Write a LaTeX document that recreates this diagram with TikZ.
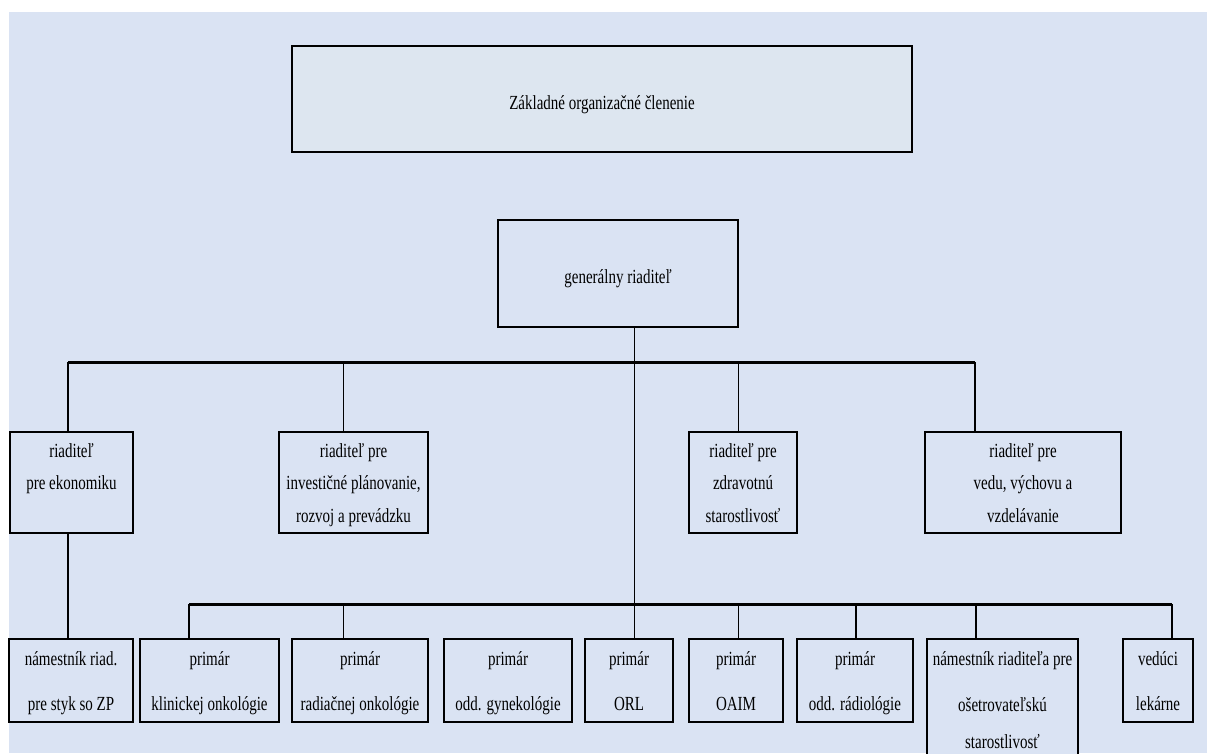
\documentclass[tikz,border=0pt]{standalone}
\usepackage{fontspec}
\setmainfont{Liberation Serif}[FakeStretch=0.75]
\definecolor{bg}{HTML}{DAE3F3}
\definecolor{topfill}{HTML}{DDE6F0}
\begin{document}
\begin{tikzpicture}[x=1pt,y=-1pt,
 box/.style={draw=black, line width=2pt, fill=bg, rectangle, inner sep=0pt, outer sep=0pt, anchor=north west},
 lbl/.style={anchor=base, inner sep=0pt, font=\fontsize{20}{24}\selectfont},
 bus/.style={line width=3pt},
 thk/.style={line width=2pt},
 thn/.style={line width=1pt}]
\useasboundingbox (0,0) rectangle (1207,753);
\clip (0,0) rectangle (1207,753);
\fill[white] (0,0) rectangle (1207,753);
\fill[bg] (9,12) rectangle (1207,753);

% boxes
\node[box, fill=topfill, minimum width=620pt, minimum height=106pt] (top) at (292,46) {};
\node[box, minimum width=240pt, minimum height=107pt] (gen) at (498,220) {};
\node[box, minimum width=123pt, minimum height=101pt] (eko) at (10,432) {};
\node[box, minimum width=149pt, minimum height=101pt] (inv) at (279,432) {};
\node[box, minimum width=108pt, minimum height=101pt] (zdr) at (689,432) {};
\node[box, minimum width=196pt, minimum height=101pt] (ved) at (925,432) {};
\node[box, minimum width=124pt, minimum height=83pt] (nam) at (9,639) {};
\node[box, minimum width=139pt, minimum height=83pt] (kli) at (140,639) {};
\node[box, minimum width=136pt, minimum height=83pt] (rad) at (292,639) {};
\node[box, minimum width=128pt, minimum height=83pt] (gyn) at (444,639) {};
\node[box, minimum width=88pt, minimum height=83pt] (orl) at (585,639) {};
\node[box, minimum width=94pt, minimum height=83pt] (oaim) at (689,639) {};
\node[box, minimum width=116pt, minimum height=83pt] (rdl) at (797,639) {};
\node[box, minimum width=151pt, minimum height=130pt] (nrs) at (927,639) {};
\node[box, minimum width=70pt, minimum height=83pt] (lek) at (1123,639) {};

% labels
\node[lbl] (topT) at (top.center |- 0,109) {Základné organizačné členenie};
\node[lbl] (genT) at (gen.center |- 0,283) {generálny riaditeľ};
\node[lbl] (ekoA) at (eko.center |- 0,457) {riaditeľ};
\node[lbl] (ekoB) at (eko.center |- 0,489) {pre ekonomiku};
\node[lbl] (invA) at (inv.center |- 0,457) {riaditeľ pre};
\node[lbl] (invB) at (inv.center |- 0,489) {investičné plánovanie,};
\node[lbl] (invC) at (inv.center |- 0,522) {rozvoj a prevádzku};
\node[lbl] (zdrA) at (zdr.center |- 0,457) {riaditeľ pre};
\node[lbl] (zdrB) at (zdr.center |- 0,489) {zdravotnú};
\node[lbl] (zdrC) at (zdr.center |- 0,522) {starostlivosť};
\node[lbl] (vedA) at (ved.center |- 0,457) {riaditeľ pre};
\node[lbl] (vedB) at (ved.center |- 0,489) {vedu, výchovu a};
\node[lbl] (vedC) at (ved.center |- 0,522) {vzdelávanie};
\node[lbl] (namA) at (nam.center |- 0,665) {námestník riad.};
\node[lbl] (namB) at (nam.center |- 0,710) {pre styk so ZP};
\node[lbl] (kliA) at (kli.center |- 0,665) {primár};
\node[lbl] (kliB) at (kli.center |- 0,710) {klinickej onkológie};
\node[lbl] (radA) at (rad.center |- 0,665) {primár};
\node[lbl] (radB) at (rad.center |- 0,710) {radiačnej onkológie};
\node[lbl] (gynA) at (gyn.center |- 0,665) {primár};
\node[lbl] (gynB) at (gyn.center |- 0,710) {odd. gynekológie};
\node[lbl] (orlA) at (orl.center |- 0,665) {primár};
\node[lbl] (orlB) at (orl.center |- 0,710) {ORL};
\node[lbl] (oaimA) at (oaim.center |- 0,665) {primár};
\node[lbl] (oaimB) at (oaim.center |- 0,710) {OAIM};
\node[lbl] (rdlA) at (rdl.center |- 0,665) {primár};
\node[lbl] (rdlB) at (rdl.center |- 0,710) {odd. rádiológie};
\node[lbl] (nrsA) at (nrs.center |- 0,665) {námestník riaditeľa pre};
\node[lbl] (nrsB) at (nrs.center |- 0,711) {ošetrovateľskú};
\node[lbl] (nrsC) at (nrs.center |- 0,748) {starostlivosť};
\node[lbl] (lekA) at (lek.center |- 0,665) {vedúci};
\node[lbl] (lekB) at (lek.center |- 0,710) {lekárne};

% bus coordinates
\coordinate (b1l) at (68,362);
\coordinate (b1r) at (975,362);
\coordinate (b1i) at (343,362);
\coordinate (b1m) at (634,362);
\coordinate (b1z) at (738,362);
\coordinate (b2l) at (189,604);
\coordinate (b2r) at (1172,604);
\coordinate (b2r2) at (343,604);
\coordinate (b2o) at (738,604);
\coordinate (b2d) at (856,604);
\coordinate (b2n) at (976,604);

% connectors
\draw[thn] (b1m |- gen.south) -- (b1m |- orl.north);
\draw[bus] (b1l) -- (b1r);
\draw[thk] (b1l) -- (b1l |- eko.north);
\draw[thn] (b1i) -- (b1i |- inv.north);
\draw[thn] (b1z) -- (b1z |- zdr.north);
\draw[thk] (b1r) -- (b1r |- ved.north);
\draw[thk] (b1l |- eko.south) -- (b1l |- nam.north);
\draw[bus] (b2l) -- (b2r);
\draw[thk] (b2l) -- (b2l |- kli.north);
\draw[thn] (b2r2) -- (b2r2 |- rad.north);
\draw[thn] (b2o) -- (b2o |- oaim.north);
\draw[thk] (b2d) -- (b2d |- rdl.north);
\draw[thk] (b2n) -- (b2n |- nrs.north);
\draw[thk] (b2r) -- (b2r |- lek.north);
\end{tikzpicture}
\end{document}
